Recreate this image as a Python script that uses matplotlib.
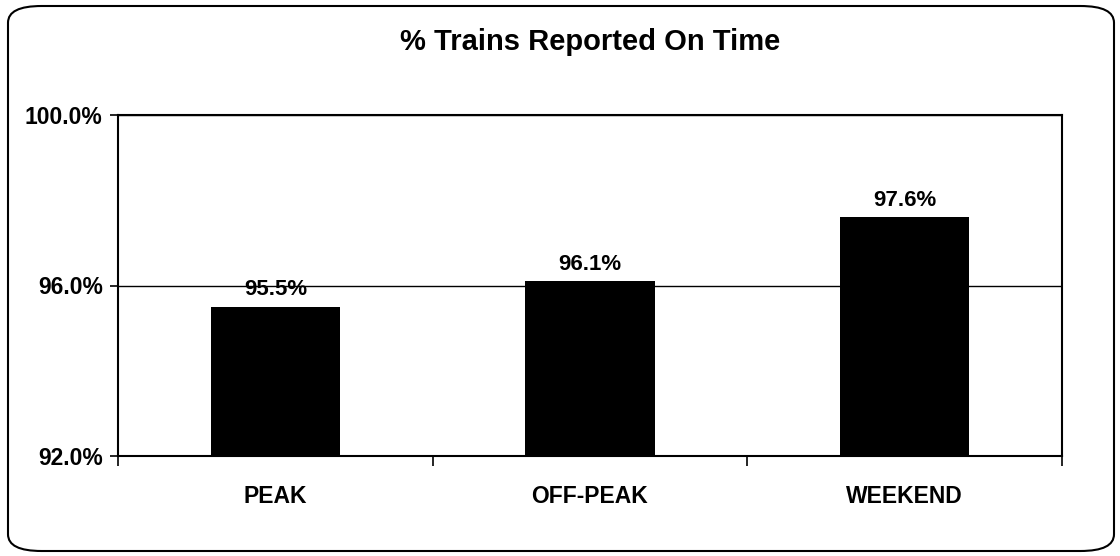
import matplotlib
matplotlib.use("Agg")
import matplotlib.pyplot as plt
from matplotlib.patches import FancyBboxPatch
from matplotlib.ticker import FixedLocator

categories = ["PEAK", "OFF-PEAK", "WEEKEND"]
values = [95.5, 96.1, 97.6]
yticks = [92.0, 96.0, 100.0]
title = "% Trains Reported On Time"

plt.rcParams['font.family'] = ['Liberation Sans', 'DejaVu Sans']

fig = plt.figure(figsize=(11.2, 5.56), dpi=100)
W, H = 1120, 556
ax = fig.add_axes([118 / W, 1 - 456 / H, (1062 - 118) / W, (456 - 115) / H])

# rounded border around the figure
border = FancyBboxPatch((8 / W, 5 / H), (1114 - 8) / W, (550 - 5) / H,
                        boxstyle="round,pad=0,rounding_size=0.03",
                        transform=fig.transFigure, fill=False,
                        edgecolor="black", linewidth=1.5)
fig.patches.append(border)

x = list(range(len(categories)))
bars = ax.bar(x, [v - yticks[0] for v in values], bottom=yticks[0], width=0.41,
              color="black", zorder=3)
for xi, v in zip(x, values):
    ax.text(xi, v + 0.15, f"{v:.1f}%", ha="center", va="bottom",
            fontsize=16, fontweight="bold", zorder=4)

ax.set_xlim(-0.5, len(categories) - 0.5)
ax.set_ylim(yticks[0], yticks[-1])
ax.set_yticks(yticks)
ax.set_yticklabels([f"{t:.1f}%" for t in yticks], fontsize=16.5, fontweight="bold")
ax.set_xticks(x)
ax.set_xticklabels(categories, fontsize=16.5, fontweight="bold")
ax.tick_params(axis="x", length=0, pad=21)
ax.xaxis.set_minor_locator(FixedLocator([i - 0.5 for i in range(len(categories) + 1)]))
ax.tick_params(axis="x", which="minor", length=7, width=1.2, direction="out")
ax.tick_params(axis="y", length=6, width=1.2, direction="out", pad=5)
ax.grid(axis="y", color="black", linewidth=1.0, zorder=1)
for s in ax.spines.values():
    s.set_linewidth(1.5)

fig.text(590 / W, 1 - 42 / H, title, ha="center", va="center", fontsize=21, fontweight="bold")

fig.savefig("out.png", dpi=100)
